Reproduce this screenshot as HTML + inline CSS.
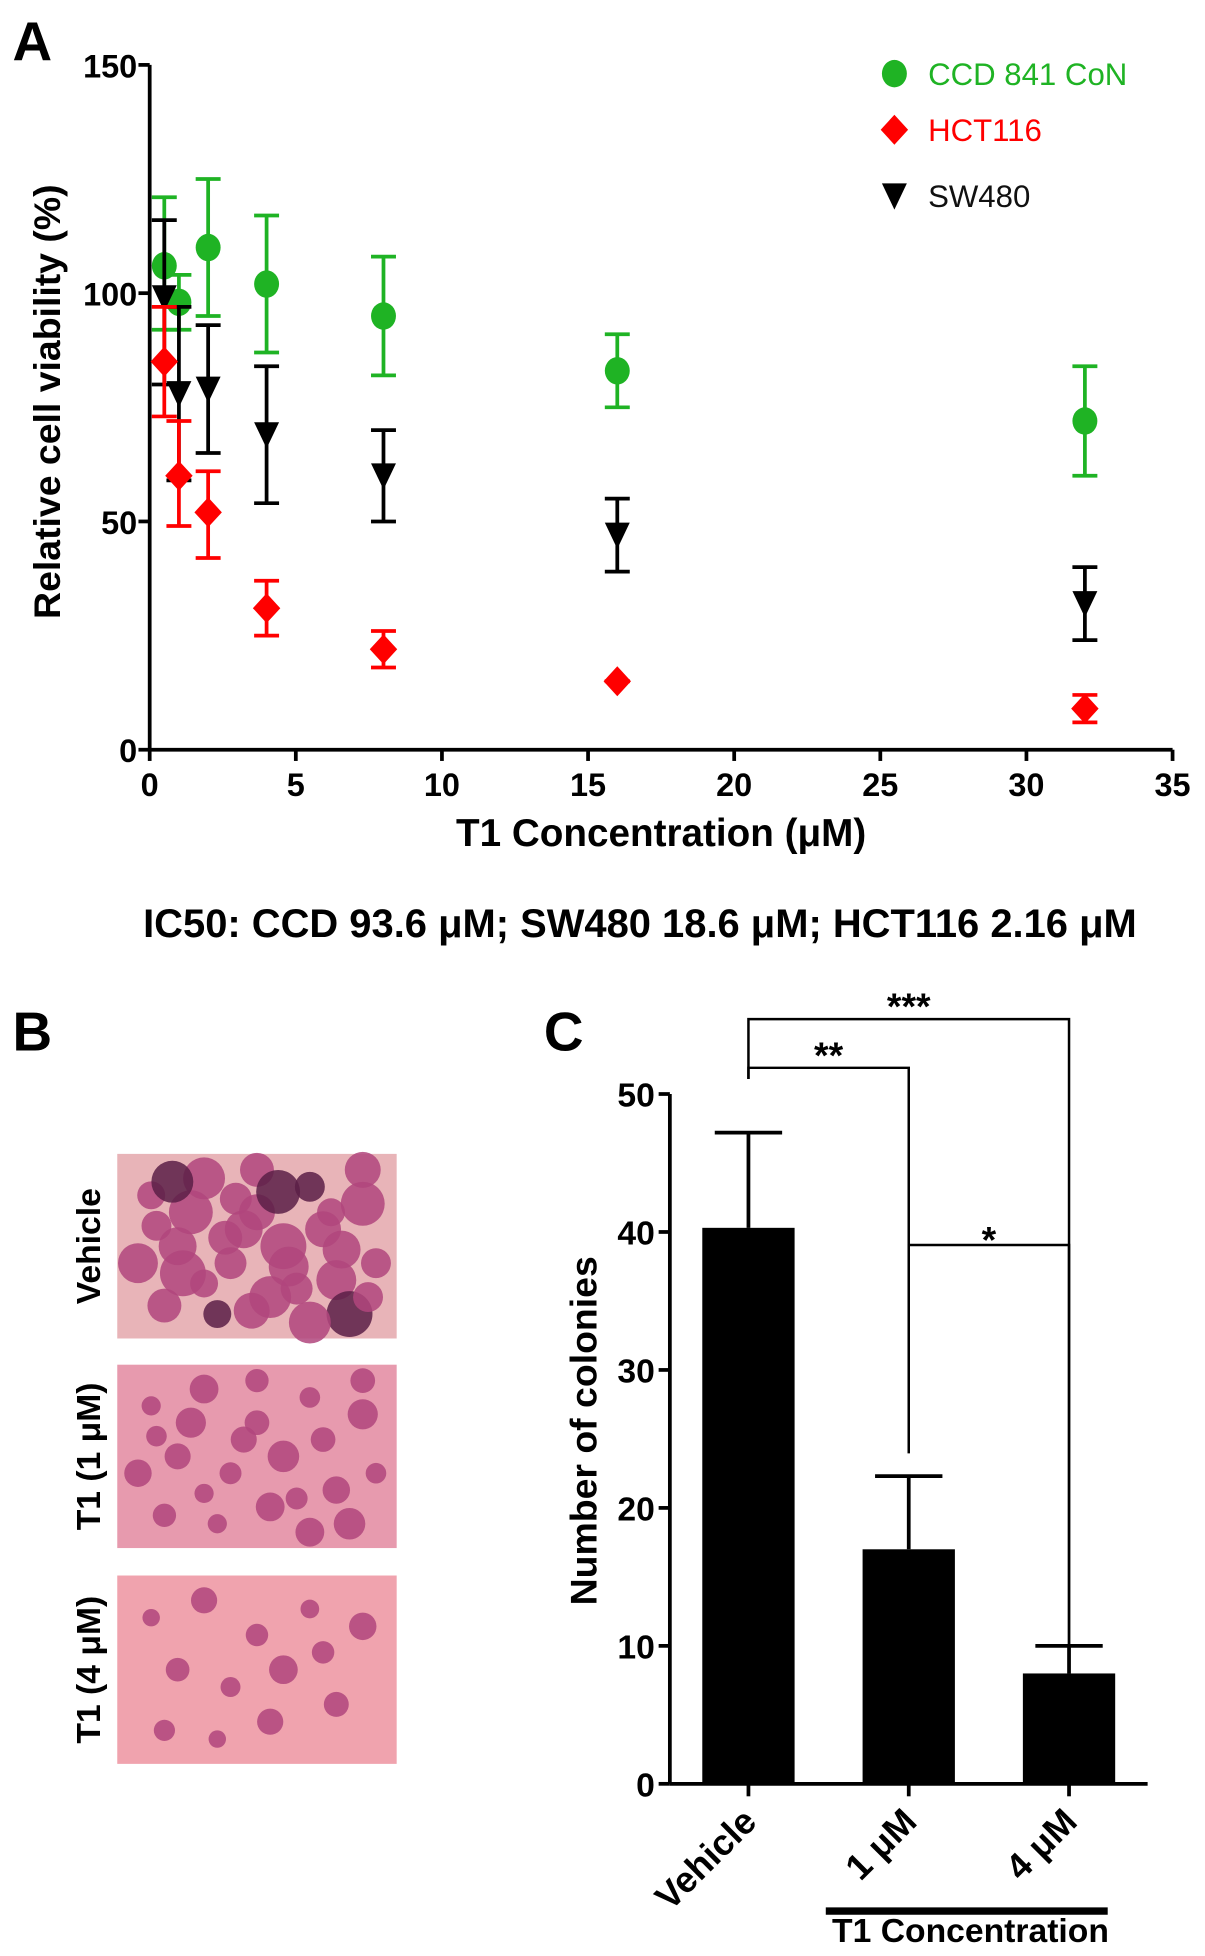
<!DOCTYPE html>
<html><head><meta charset="utf-8"><style>
html,body{margin:0;padding:0;background:#fff;width:1205px;height:1956px;overflow:hidden}
text{font-family:"Liberation Sans",Arial,sans-serif}
</style></head><body>
<svg id="fig" width="1205" height="1956" viewBox="0 0 966 1568" xmlns="http://www.w3.org/2000/svg">
<text x="10" y="48" font-size="44" font-weight="bold">A</text>
<g id="panelA"></g>
<text x="513" y="751" font-size="32" font-weight="bold" text-anchor="middle">IC50: CCD 93.6 μM; SW480 18.6 μM; HCT116 2.16 μM</text>
<text x="10" y="842" font-size="44" font-weight="bold">B</text>
<g id="panelB"></g>
<text x="436" y="842" font-size="44" font-weight="bold">C</text>
<g id="panelC"></g>
</svg>
<script>
// Panel A data
const concs=[0.5,1,2,4,8,16,32];
const ccdMean=[106,98,110,102,95,83,72];
const ccdLo=[92,92,95,87,82,75,60];
const ccdHi=[121,104,125,117,108,91,84];
const hctMean=[85,60,52,31,22,15,9];
const hctLo=[73,49,42,25,18,15,6];
const hctHi=[97,72,61,37,26,15,12];
const swMean=[99,78,79,69,60,47,32];
const swLo=[80,59,65,54,50,39,24];
const swHi=[116,97,93,84,70,55,40];
const xTicksA=[0,5,10,15,20,25,30,35];
const yTicksA=[0,50,100,150];
// Panel C data
const barCats=["Vehicle","1 μM","4 μM"];
const barVals=[40.3,17,8];
const barErr=[47.2,22.3,10];
const yTicksC=[0,10,20,30,40,50];

const NS="http://www.w3.org/2000/svg";
function mk(tag,attrs,parent,txt){const e=document.createElementNS(NS,tag);for(const k in attrs)e.setAttribute(k,attrs[k]);if(txt!==undefined)e.textContent=txt;parent.appendChild(e);return e;}

const A=document.getElementById('panelA');
const ax=v=>120+v*(820/35), ay=v=>601-v*(549/150);
let l;
l=mk('line',{x1:120,y1:52,x2:120,y2:601,stroke:'#000','stroke-width':3},A);


l=mk('line',{x1:120,y1:601,x2:940,y2:601,stroke:'#000','stroke-width':3},A);


xTicksA.forEach(t=>{mk('line',{x1:ax(t),y1:601,x2:ax(t),y2:610,stroke:'#000','stroke-width':3},A);
 const tx=mk('text',{x:ax(t),y:638,'font-size':26,'font-weight':'bold','text-anchor':'middle'},A,t);
 
 });
yTicksA.forEach(t=>{mk('line',{x1:111,y1:ay(t),x2:120,y2:ay(t),stroke:'#000','stroke-width':3},A);
 const tx=mk('text',{x:110,y:ay(t)+10,'font-size':26,'font-weight':'bold','text-anchor':'end'},A,t);
 
 });
let tt=mk('text',{x:530,y:678,'font-size':31,'font-weight':'bold','text-anchor':'middle'},A,'T1 Concentration (μM)');


tt=mk('text',{x:0,y:0,'font-size':30,'font-weight':'bold','text-anchor':'middle',transform:'translate(48,322) rotate(-90)'},A,'Relative cell viability (%)');



function series(mean,lo,hi,color,shape,name){
 concs.forEach((c,i)=>{
  const x=ax(c);
  const g=mk('g',{},A);
  
  
  mk('line',{x1:x,y1:ay(lo[i]),x2:x,y2:ay(hi[i]),stroke:color,'stroke-width':3},g);
  mk('line',{x1:x-10,y1:ay(lo[i]),x2:x+10,y2:ay(lo[i]),stroke:color,'stroke-width':3},g);
  mk('line',{x1:x-10,y1:ay(hi[i]),x2:x+10,y2:ay(hi[i]),stroke:color,'stroke-width':3},g);
  drawShape(g,shape,x,ay(mean[i]),color);
 });
}
function drawShape(g,shape,x,y,color){
 if(shape==='circle')mk('ellipse',{cx:x,cy:y,rx:10,ry:11,fill:color},g);
 else if(shape==='diamond')mk('polygon',{points:`${x},${y-12} ${x+11},${y} ${x},${y+12} ${x-11},${y}`,fill:color},g);
 else mk('polygon',{points:`${x-10},${y-10} ${x+10},${y-10} ${x},${y+11}`,fill:color},g);
}
series(ccdMean,ccdLo,ccdHi,'#1fb324','circle','ccd-841-con');
series(swMean,swLo,swHi,'#000','tri','sw480');
series(hctMean,hctLo,hctHi,'#f00','diamond','hct116');
[['CCD 841 CoN','#1fb324','circle',59],['HCT116','#f00','diamond',104],['SW480','#000','tri',157]].forEach(([n,c,s,y])=>{
 const g=mk('g',{},A);
 
 
 drawShape(g,s,717,y,c);
 mk('text',{x:744,y:y+9,'font-size':25,fill:c==='#000'?'#111':c},g,n);
});

// Panel B images
const B=document.getElementById('panelB');
const imgs=[{y:925,h:148,label:'Vehicle',bg:'#e8b4b8',n:34,r:16},{y:1094,h:147,label:'T1 (1 μM)',bg:'#e79aae',n:24,r:11},{y:1263,h:151,label:'T1 (4 μM)',bg:'#f0a3ae',n:13,r:10}];
const blobPos=[[0.1,0.2],[0.3,0.1],[0.5,0.3],[0.7,0.15],[0.9,0.25],[0.2,0.5],[0.4,0.6],[0.6,0.5],[0.8,0.7],[0.15,0.85],[0.35,0.9],[0.55,0.8],[0.75,0.4],[0.95,0.6],[0.25,0.3],[0.45,0.4],[0.65,0.75],[0.85,0.9],[0.05,0.6],[0.5,0.05],[0.3,0.72],[0.7,0.95],[0.9,0.05],[0.12,0.38],[0.58,0.18],[0.82,0.52],[0.42,0.22],[0.22,0.66],[0.62,0.62],[0.38,0.45],[0.78,0.3],[0.18,0.12],[0.48,0.88],[0.92,0.8]];
imgs.forEach((im,k)=>{
 const g=mk('g',{},B);
 
 
 mk('rect',{x:94,y:im.y,width:224,height:im.h,fill:im.bg},g);
 for(let i=0;i<im.n;i++){const p=blobPos[i];mk('circle',{cx:100+p[0]*212,cy:im.y+6+p[1]*(im.h-12),r:im.r*(0.7+((i*37)%10)/20),fill:k===0&&i%7===3?'#5a1f47':'#b0457c',opacity:0.85},g);}
 const t=mk('text',{x:0,y:0,'font-size':27,'font-weight':'bold','text-anchor':'middle',transform:`translate(80,${im.y+im.h/2}) rotate(-90)`},B,im.label);
 
 
});

// Panel C
const C=document.getElementById('panelC');
const cy=v=>1430-v*(553/50);
const cx=i=>600+i*128.5;
l=mk('line',{x1:537,y1:877,x2:537,y2:1430,stroke:'#000','stroke-width':3},C);


l=mk('line',{x1:537,y1:1430,x2:920,y2:1430,stroke:'#000','stroke-width':3},C);


yTicksC.forEach(t=>{mk('line',{x1:528,y1:cy(t),x2:537,y2:cy(t),stroke:'#000','stroke-width':3},C);
 const tx=mk('text',{x:525,y:cy(t)+10,'font-size':27,'font-weight':'bold','text-anchor':'end'},C,t);
 
 });
tt=mk('text',{x:0,y:0,'font-size':30,'font-weight':'bold','text-anchor':'middle',transform:'translate(478,1147) rotate(-90)'},C,'Number of colonies');


barCats.forEach((c,i)=>{
 const x=cx(i);
 const r=mk('rect',{x:x-37,y:cy(barVals[i]),width:74,height:cy(0)-cy(barVals[i]),fill:'#000'},C);
 
 
 mk('line',{x1:x,y1:cy(barVals[i]),x2:x,y2:cy(barErr[i]),stroke:'#000','stroke-width':3},C);
 mk('line',{x1:x-27,y1:cy(barErr[i]),x2:x+27,y2:cy(barErr[i]),stroke:'#000','stroke-width':3},C);
 mk('line',{x1:x,y1:1430,x2:x,y2:1440,stroke:'#000','stroke-width':3},C);
 const t=mk('text',{x:0,y:0,'font-size':29,'font-weight':'bold','text-anchor':'end',transform:`translate(${x+8},${1462}) rotate(-45)`},C,c);
 
 
});
// brackets
[[0,2,817,865,1320,'***'],[0,1,856,865,1165,'**'],[1,2,998,1165,1320,'*']].forEach(([a,b,y,y1,y2,s])=>{
 const g=mk('g',{},C);
 
 
 mk('polyline',{points:`${cx(a)},${y1} ${cx(a)},${y} ${cx(b)},${y} ${cx(b)},${y2}`,fill:'none',stroke:'#000','stroke-width':2},g);
 mk('text',{x:(cx(a)+cx(b))/2,y:y+(s==='*'?6:0),'font-size':30,'font-weight':'bold','text-anchor':'middle'},g,s);
});
l=mk('line',{x1:662,y1:1532,x2:888,y2:1532,stroke:'#000','stroke-width':6},C);


tt=mk('text',{x:778,y:1557,'font-size':27,'font-weight':'bold','text-anchor':'middle'},C,'T1 Concentration');


</script>
</body></html>
